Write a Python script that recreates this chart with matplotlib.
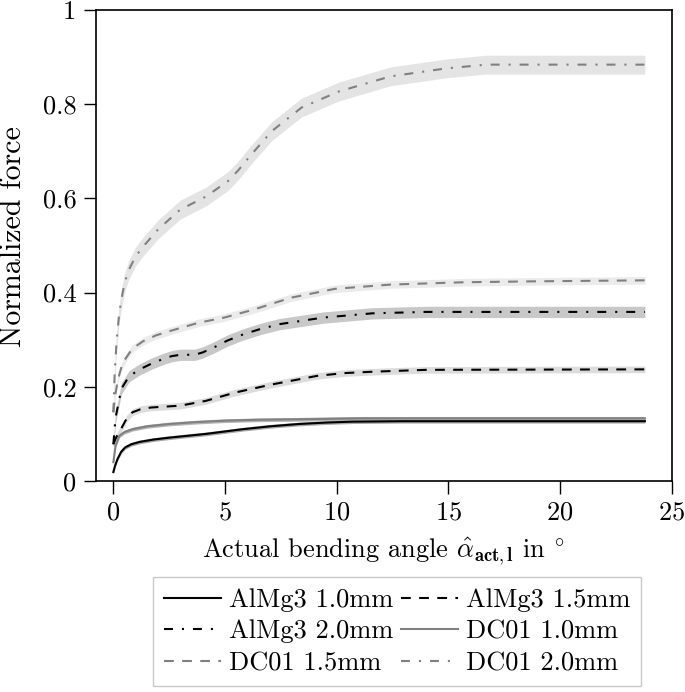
import numpy as np
import matplotlib
matplotlib.use('Agg')
import matplotlib.pyplot as plt

plt.rcParams['font.family'] = 'serif'
plt.rcParams['font.serif'] = ['cmr10']
plt.rcParams['mathtext.fontset'] = 'cm'
plt.rcParams['axes.formatter.use_mathtext'] = True
plt.rcParams['axes.unicode_minus'] = False
plt.rcParams['font.size'] = 19

# values (angle in deg, normalized force)
x_almg3_10 = [0, 0.08, 0.19, 0.35, 0.52, 0.8, 1.18, 1.8, 2.5, 4.15, 5.8, 7.0, 8.3, 9.5, 10.7, 13.0, 23.8]
y_almg3_10 = [0.019, 0.033, 0.047, 0.062, 0.071, 0.078, 0.083, 0.088, 0.092, 0.100, 0.110, 0.116, 0.121, 0.124, 0.126, 0.127, 0.127]

x_almg3_15 = [0, 0.12, 0.36, 0.6, 0.86, 1.2, 1.68, 3.0, 4.13, 5.47, 7.1, 9.1, 10.3, 11.6, 14.0, 23.8]
y_almg3_15 = [0.078, 0.092, 0.112, 0.133, 0.146, 0.152, 0.156, 0.160, 0.170, 0.188, 0.205, 0.223, 0.229, 0.232, 0.236, 0.237]

x_almg3_20 = [0, 0.1, 0.36, 0.7, 1.18, 1.7, 2.17, 2.6, 3.0, 3.3, 3.65, 4.0, 4.48, 5.1, 5.8, 6.6, 7.44, 9.4, 11.6, 14.0, 23.8]
y_almg3_20 = [0.078, 0.135, 0.196, 0.222, 0.237, 0.249, 0.258, 0.265, 0.268, 0.268, 0.268, 0.273, 0.283, 0.298, 0.311, 0.323, 0.333, 0.347, 0.356, 0.359, 0.359]

x_dc01_10 = [0, 0.1, 0.27, 0.5, 0.86, 1.5, 2.5, 3.7, 4.97, 6.5, 8.3, 11.0, 23.8]
y_dc01_10 = [0.040, 0.075, 0.096, 0.104, 0.110, 0.116, 0.121, 0.125, 0.128, 0.130, 0.131, 0.133, 0.133]

x_dc01_15 = [0, 0.08, 0.19, 0.35, 0.52, 0.85, 1.34, 1.9, 2.5, 3.82, 4.97, 6.29, 7.94, 9.92, 12.4, 15.7, 19.0, 23.8]
y_dc01_15 = [0.146, 0.180, 0.213, 0.240, 0.258, 0.281, 0.297, 0.309, 0.318, 0.336, 0.347, 0.364, 0.389, 0.408, 0.417, 0.422, 0.424, 0.426]

x_dc01_20 = [0, 0.06, 0.15, 0.25, 0.36, 0.5, 0.68, 1.0, 1.34, 2.0, 2.99, 4.15, 5.14, 5.6, 6.12, 7.1, 8.43, 10.1, 12.4, 14.9, 16.7, 23.8]
y_dc01_20 = [0.146, 0.230, 0.300, 0.350, 0.386, 0.420, 0.447, 0.477, 0.498, 0.534, 0.576, 0.604, 0.637, 0.660, 0.690, 0.743, 0.793, 0.827, 0.859, 0.876, 0.884, 0.884]

# half width of the grey scatter band
band_halfwidth = [0.004, 0.007, 0.012, 0.004, 0.008, 0.02]

labels = ['AlMg3 1.0mm', 'AlMg3 1.5mm', 'AlMg3 2.0mm',
          'DC01 1.0mm', 'DC01 1.5mm', 'DC01 2.0mm']

xs = [x_almg3_10, x_almg3_15, x_almg3_20, x_dc01_10, x_dc01_15, x_dc01_20]
ys = [y_almg3_10, y_almg3_15, y_almg3_20, y_dc01_10, y_dc01_15, y_dc01_20]

dashed = (0, (4.7, 4.0))
dashdot = (0, (4.3, 4.3, 1.0, 4.3))
line_colors = ['black', 'black', 'black', '#808080', '#808080', '#808080']
line_styles = ['-', dashed, dashdot, '-', dashed, dashdot]
band_colors = ['#a8a8a8', '#dcdcdc', '#c8c8c8', '#b4b4b4', '#ebebeb', '#e4e4e4']

fig = plt.figure(figsize=(6.85, 6.92), dpi=100)
ax = fig.add_axes([95.7/685, 1-481/692, 576/685, 471/692])

handles = []
for i in range(6):
    x = np.array(xs[i])
    y = np.array(ys[i])
    ax.fill_between(x, y - band_halfwidth[i], y + band_halfwidth[i],
                    color=band_colors[i], lw=0, zorder=1)
for i in range(6):
    h, = ax.plot(xs[i], ys[i], color=line_colors[i], ls=line_styles[i],
                 lw=1.5, label=labels[i], zorder=2)
    handles.append(h)

ax.set_xlim(-0.79, 25)
ax.set_ylim(0, 1)
ax.set_xticks([0, 5, 10, 15, 20, 25])
ax.set_yticks([0, 0.2, 0.4, 0.6, 0.8, 1])
ax.set_yticklabels(['0', '0.2', '0.4', '0.6', '0.8', '1'])
ax.tick_params(direction='out', length=9, width=1, pad=5)
for s in ax.spines.values():
    s.set_linewidth(1.2)

ax.set_xlabel(r'Actual bending angle $\hat{\alpha}_{\mathbf{act,l}}$ in $^{\circ}$', labelpad=8)
ax.set_ylabel('Normalized force', fontsize=21.5)
ax.yaxis.set_label_coords(-0.12, 0.52)

# legend fills row by row in the reference, matplotlib fills columns
order = [0, 2, 4, 1, 3, 5]
leg = fig.legend([handles[k] for k in order], [labels[k] for k in order],
                 ncol=2, loc='upper left', bbox_to_anchor=(153/685, 1-577/692),
                 fancybox=False, edgecolor='#c8c8c8', framealpha=1,
                 borderaxespad=0, handlelength=2.15, handletextpad=0.3,
                 columnspacing=0.3, labelspacing=0.3, borderpad=0.42)
leg.get_frame().set_linewidth(1.0)

fig.savefig('out.png', dpi=100)
